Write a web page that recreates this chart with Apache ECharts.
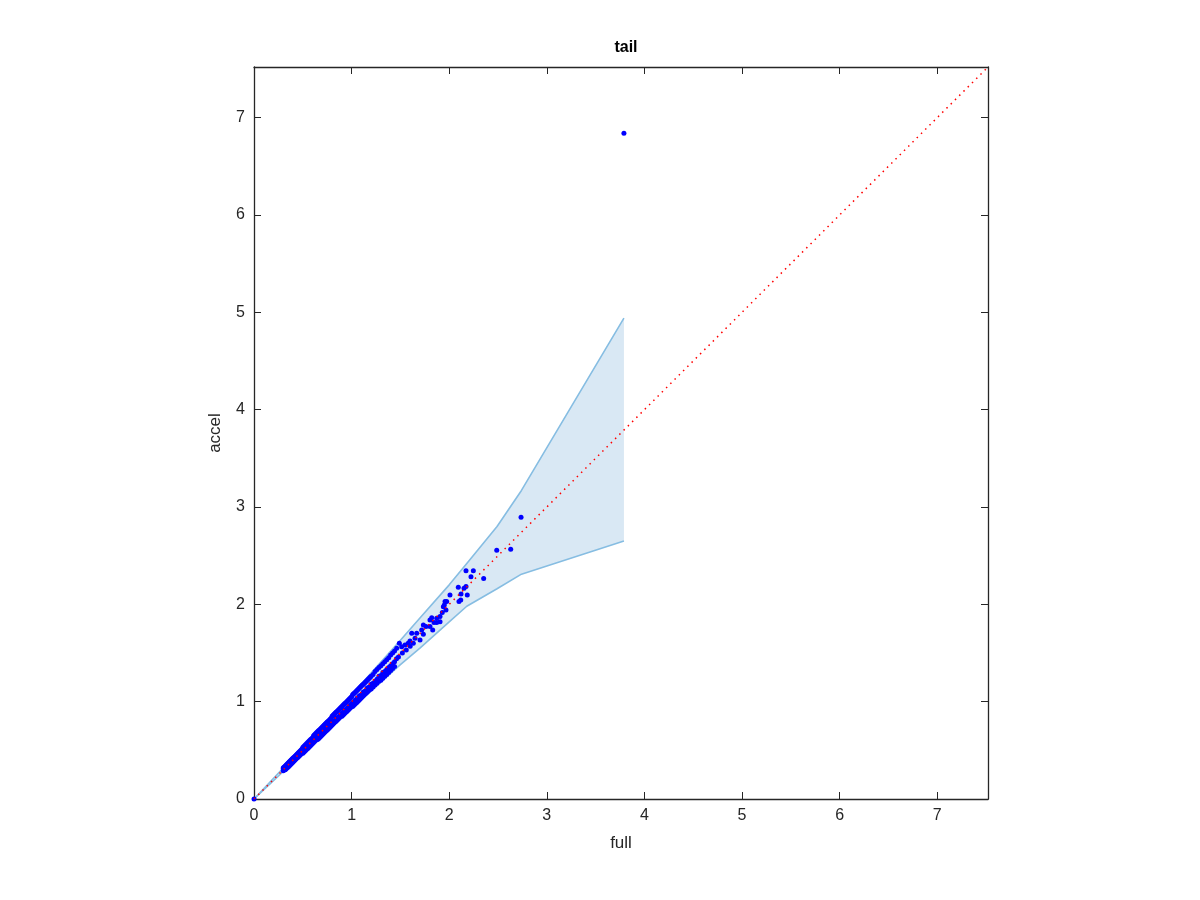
<!DOCTYPE html>
<html>
<head>
<meta charset="utf-8">
<script src="https://cdn.jsdelivr.net/npm/echarts@6/dist/echarts.min.js"></script>
<style>html,body{margin:0;padding:0;background:#fff}#chart{width:1200px;height:900px}</style>
</head>
<body>
<div id="chart"></div>
<script>
// ---- data ----
const axisMax = 7.52;
const tickValues = [0, 1, 2, 3, 4, 5, 6, 7];
const bandX     = [0, 0.5, 1.0, 1.5, 1.7, 2.0, 2.18, 2.49, 2.74, 3.79];
const bandUpper = [0, 0.53, 1.07, 1.63, 1.86, 2.20, 2.42, 2.80, 3.17, 4.94];
const bandLower = [0, 0.47, 0.93, 1.38, 1.55, 1.82, 1.98, 2.16, 2.31, 2.65];
const diagLine = [[0, 0], [7.52, 7.52]];
const densePoints = [
  [0.30,0.32],[0.30,0.29],[0.31,0.33],[0.31,0.30],[0.32,0.34],[0.32,0.30],[0.33,0.35],[0.33,0.31],[0.34,0.36],[0.34,0.32],
  [0.35,0.37],[0.35,0.33],[0.36,0.38],[0.36,0.34],[0.37,0.39],[0.37,0.35],[0.38,0.40],[0.38,0.36],[0.39,0.41],[0.39,0.37],
  [0.40,0.42],[0.40,0.38],[0.41,0.43],[0.41,0.39],[0.42,0.44],[0.42,0.40],[0.43,0.45],[0.43,0.41],[0.44,0.46],[0.44,0.42],
  [0.45,0.47],[0.45,0.43],[0.46,0.48],[0.46,0.44],[0.47,0.49],[0.47,0.45],[0.48,0.50],[0.48,0.46],[0.49,0.51],[0.49,0.47],
  [0.50,0.53],[0.50,0.47],[0.51,0.54],[0.51,0.48],[0.52,0.55],[0.52,0.49],[0.53,0.56],[0.53,0.50],[0.54,0.57],[0.54,0.51],
  [0.55,0.58],[0.55,0.52],[0.56,0.59],[0.56,0.53],[0.57,0.60],[0.57,0.54],[0.58,0.61],[0.58,0.55],[0.59,0.62],[0.59,0.56],
  [0.60,0.63],[0.60,0.57],
  [0.61,0.65],[0.61,0.58],[0.62,0.66],[0.62,0.59],[0.63,0.67],[0.63,0.60],[0.64,0.68],[0.64,0.61],[0.65,0.69],[0.65,0.61],
  [0.66,0.70],[0.66,0.62],[0.67,0.71],[0.67,0.63],[0.68,0.72],[0.68,0.64],[0.69,0.73],[0.69,0.65],[0.70,0.74],[0.70,0.66],
  [0.71,0.75],[0.71,0.67],[0.72,0.76],[0.72,0.68],[0.73,0.77],[0.73,0.69],[0.74,0.78],[0.74,0.70],[0.75,0.79],[0.75,0.71],
  [0.76,0.80],[0.76,0.72],[0.77,0.81],[0.77,0.73],[0.78,0.82],[0.78,0.74],[0.79,0.83],[0.79,0.75],[0.80,0.85],[0.80,0.76],
  [0.81,0.86],[0.81,0.77],[0.82,0.87],[0.82,0.78],[0.83,0.88],[0.83,0.79],[0.84,0.89],[0.84,0.80],[0.85,0.90],[0.85,0.81],
  [0.86,0.91],[0.86,0.82],[0.87,0.92],[0.87,0.83],[0.88,0.93],[0.88,0.84],[0.89,0.94],[0.89,0.85],[0.90,0.95],[0.90,0.85],
  [0.91,0.96],[0.91,0.86],[0.92,0.97],[0.92,0.87],[0.93,0.98],[0.93,0.88],[0.94,0.99],[0.94,0.89],[0.95,1.00],[0.95,0.90],
  [0.96,1.01],[0.96,0.91],[0.97,1.02],[0.97,0.92],[0.98,1.03],[0.98,0.93],[0.99,1.04],[0.99,0.94],[1.00,1.05],[1.00,0.95],
  [1.01,1.07],[1.01,0.95],[1.02,1.08],[1.02,0.96],[1.03,1.09],[1.03,0.97],[1.04,1.10],[1.04,0.98],[1.05,1.11],[1.05,0.99],
  [1.06,1.12],[1.06,1.00],[1.07,1.13],[1.07,1.01],[1.08,1.14],[1.08,1.02],[1.09,1.15],[1.09,1.03],[1.10,1.16],[1.10,1.04],
  [1.11,1.17],[1.11,1.05],[1.12,1.18],[1.12,1.06],[1.13,1.19],[1.13,1.07],[1.14,1.20],[1.14,1.08],[1.15,1.21],[1.15,1.09],
  [1.16,1.22],[1.16,1.10],[1.17,1.23],[1.17,1.11],[1.18,1.24],[1.18,1.12],[1.19,1.25],[1.19,1.13],[1.20,1.26],[1.20,1.13],
  [1.22,1.28],[1.22,1.15],[1.24,1.31],[1.24,1.17],[1.26,1.33],[1.26,1.19],[1.28,1.35],[1.28,1.21],[1.30,1.37],[1.30,1.22],
  [1.32,1.39],[1.32,1.24],[1.34,1.41],[1.34,1.26],[1.36,1.43],[1.36,1.28],[1.38,1.45],[1.38,1.30],[1.40,1.48],[1.40,1.32],
  [1.42,1.50],[1.42,1.34],[1.44,1.52],[1.44,1.36]
];
const centerPoints = [
  [0.30,0.31],[0.32,0.33],[0.34,0.33],[0.36,0.37],[0.38,0.37],[0.40,0.39],[0.42,0.43],[0.44,0.43],[0.46,0.47],[0.48,0.47],
  [0.50,0.51],[0.52,0.51],[0.54,0.53],[0.56,0.57],[0.58,0.59],[0.60,0.59],[0.62,0.61],[0.64,0.62],[0.66,0.65],[0.68,0.66],
  [0.70,0.68],[0.72,0.71],[0.74,0.72],[0.76,0.74],[0.78,0.77],[0.80,0.78],[0.82,0.80],[0.84,0.83],[0.86,0.84],[0.88,0.86],
  [0.90,0.88],[0.92,0.91],[0.94,0.92],[0.96,0.94],[0.98,0.96],[1.00,0.98],[1.02,1.00],[1.04,1.02],[1.06,1.04],[1.08,1.06],
  [1.10,1.07],[1.12,1.10],[1.14,1.11],[1.16,1.14],[1.18,1.15],[1.20,1.18],[1.22,1.19],[1.24,1.21],[1.26,1.23],[1.28,1.26],
  [1.30,1.27],[1.32,1.30],[1.34,1.31],[1.36,1.33],[1.38,1.35],[1.40,1.37],[1.42,1.39],[1.44,1.41],[1.46,1.44],[1.48,1.46]
];
const sparsePoints = [
  [0,0],
  [1.462,1.549],[1.489,1.600],[1.513,1.565],[1.547,1.583],[1.52,1.50],[1.56,1.53],[1.58,1.60],[1.60,1.57],
  [1.598,1.624],[1.632,1.600],[1.650,1.652],[1.616,1.703],[1.667,1.703],[1.701,1.634],[1.735,1.693],[1.718,1.737],
  [1.735,1.788],[1.762,1.771],[1.803,1.771],[1.831,1.737],[1.803,1.840],[1.821,1.863],[1.844,1.812],[1.872,1.812],
  [1.906,1.822],[1.872,1.857],[1.906,1.874],[1.929,1.915],[1.967,1.942],[1.940,1.976],[1.950,1.994],[1.957,2.028],
  [1.974,2.028],[2.008,2.097],[2.100,2.028],[2.118,2.045],[2.121,2.107],[2.185,2.097],[2.093,2.176],[2.172,2.182],
  [2.152,2.165],[2.223,2.282],[2.172,2.346],[2.247,2.346],[2.353,2.264],[2.487,2.556],[2.630,2.566],[2.736,2.895],
  [3.79,6.84]
];

const font = 'Liberation Sans, Arial, Helvetica, sans-serif';
const axisColor = '#262626';
function makeX(pos, show) {
  return {
    type: 'value', min: 0, max: axisMax, interval: 1, position: pos,
    axisLine: { show: true, onZero: false, lineStyle: { color: axisColor, width: 1.3 } },
    axisTick: { show: true, inside: true, length: 7, lineStyle: { color: axisColor, width: 1 } },
    axisLabel: { show: show, color: axisColor, fontSize: 16, fontFamily: font, margin: 9, showMaxLabel: false,
      formatter: v => tickValues.indexOf(v) >= 0 ? String(v) : '' },
    splitLine: { show: false },
    name: show ? 'full' : '', nameLocation: 'middle', nameGap: 36,
    nameTextStyle: { color: axisColor, fontSize: 17, fontFamily: font }
  };
}
function makeY(pos, show) {
  return {
    type: 'value', min: 0, max: axisMax, interval: 1, position: pos,
    axisLine: { show: true, onZero: false, lineStyle: { color: axisColor, width: 1.3 } },
    axisTick: { show: true, inside: true, length: 7, lineStyle: { color: axisColor, width: 1 } },
    axisLabel: { show: show, color: axisColor, fontSize: 16, fontFamily: font, margin: 9, showMaxLabel: false,
      formatter: v => tickValues.indexOf(v) >= 0 ? String(v) : '' },
    splitLine: { show: false },
    name: show ? 'accel' : '', nameLocation: 'middle', nameGap: 30, nameRotate: 90,
    nameTextStyle: { color: axisColor, fontSize: 17, fontFamily: font }
  };
}

const chart = echarts.init(document.getElementById('chart'), null, { renderer: 'canvas' });
chart.setOption({
  backgroundColor: '#ffffff',
  animation: false,
  title: { text: 'tail', left: 621, top: 35, textAlign: 'center',
    textStyle: { fontSize: 16, fontWeight: 'bold', color: '#000', fontFamily: font } },
  grid: { left: 254, right: 212, top: 67, bottom: 101, containLabel: false },
  xAxis: [makeX('bottom', true), makeX('top', false)],
  yAxis: [makeY('left', true), makeY('right', false)],
  series: [
    {
      type: 'custom', silent: true, z: 1,
      data: [[0, 0]],
      renderItem: function (params, api) {
        const pts = [];
        for (let i = 0; i < bandX.length; i++) pts.push(api.coord([bandX[i], bandUpper[i]]));
        for (let i = bandX.length - 1; i >= 0; i--) pts.push(api.coord([bandX[i], bandLower[i]]));
        return { type: 'polygon', shape: { points: pts }, style: { fill: '#d9e8f4', stroke: null } };
      }
    },
    {
      type: 'line', z: 2, silent: true, showSymbol: false, symbol: 'none',
      data: bandX.map((x, i) => [x, bandUpper[i]]),
      lineStyle: { color: '#86bde2', width: 1.6 }
    },
    {
      type: 'line', z: 2, silent: true, showSymbol: false, symbol: 'none',
      data: bandX.map((x, i) => [x, bandLower[i]]),
      lineStyle: { color: '#86bde2', width: 1.6 }
    },
    {
      type: 'scatter', z: 3, silent: true, symbol: 'circle', symbolSize: 5,
      data: densePoints.concat(centerPoints, sparsePoints),
      itemStyle: { color: '#0000ff', opacity: 1 }
    },
    {
      type: 'line', z: 4, silent: true, showSymbol: false, symbol: 'none',
      data: diagLine,
      lineStyle: { color: '#ff0000', width: 1.5, type: [1.5, 4.5] }
    }
  ]
});
</script>
</body>
</html>
